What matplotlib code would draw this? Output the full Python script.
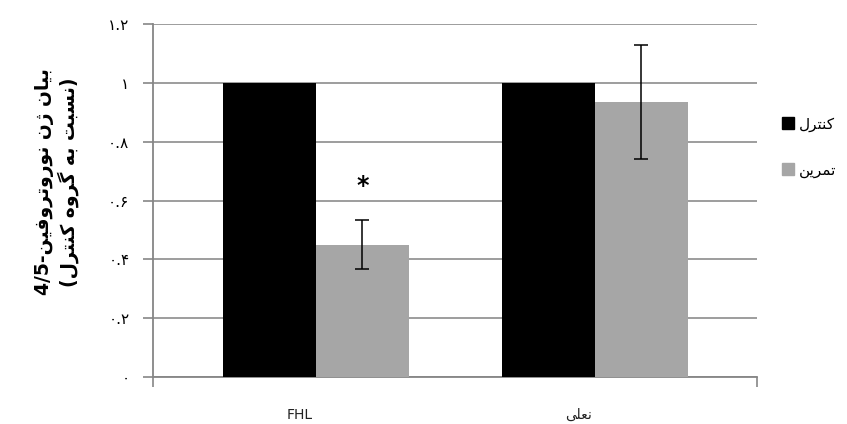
import numpy as np
import matplotlib
matplotlib.use('Agg')
import matplotlib.pyplot as plt
from matplotlib.patches import Patch

# --- data ---
groups = ['FHL', 'نعلی']
control = [1.0, 1.0]
exercise = [0.45, 0.935]
exercise_err = [0.083, 0.195]
series_names = ['کنترل', 'تمرین']
yticks = [0, 0.2, 0.4, 0.6, 0.8, 1.0, 1.2]
ytick_labels = ['۰', '۰.۲', '۰.۴', '۰.۶', '۰.۸', '۱', '۱.۲']

# matplotlib has no Arabic shaping, so pick the presentation forms by hand
forms = {
    'ا': ('\uFE8D', '\uFE8E', None, None),
    'و': ('\uFEED', '\uFEEE', None, None),
    'ر': ('\uFEAD', '\uFEAE', None, None),
    'ژ': ('\uFB8A', '\uFB8B', None, None),
    'ب': ('\uFE8F', '\uFE90', '\uFE91', '\uFE92'),
    'ت': ('\uFE95', '\uFE96', '\uFE97', '\uFE98'),
    'س': ('\uFEB1', '\uFEB2', '\uFEB3', '\uFEB4'),
    'ف': ('\uFED1', '\uFED2', '\uFED3', '\uFED4'),
    'ن': ('\uFEE5', '\uFEE6', '\uFEE7', '\uFEE8'),
    'ه': ('\uFEE9', '\uFEEA', '\uFEEB', '\uFEEC'),
    'ل': ('\uFEDD', '\uFEDE', '\uFEDF', '\uFEE0'),
    'م': ('\uFEE1', '\uFEE2', '\uFEE3', '\uFEE4'),
    'ع': ('\uFEC9', '\uFECA', '\uFECB', '\uFECC'),
    'ی': ('\uFBFC', '\uFBFD', '\uFBFE', '\uFBFF'),
    'ک': ('\uFB8E', '\uFB8F', '\uFB90', '\uFB91'),
    'گ': ('\uFB92', '\uFB93', '\uFB94', '\uFB95'),
}


def shape(s):
    out = []
    for i, ch in enumerate(s):
        if ch not in forms:
            out.append(ch)
            continue
        prev = s[i - 1] if i > 0 else None
        nxt = s[i + 1] if i + 1 < len(s) else None
        join_prev = prev in forms and forms[prev][2] is not None
        join_next = nxt in forms and forms[ch][2] is not None
        iso, fin, ini, med = forms[ch]
        if join_prev and join_next:
            out.append(med)
        elif join_prev:
            out.append(fin)
        elif join_next:
            out.append(ini)
        else:
            out.append(iso)
    return ''.join(out)


def fa(s):
    mirror = {'(': ')', ')': '('}
    return ''.join(mirror.get(c, c) for c in reversed(shape(s)))


plt.rcParams['font.family'] = ['DejaVu Sans']

fig = plt.figure(figsize=(8.47, 4.24), dpi=100)
ax = fig.add_axes([153 / 847, 1 - 377 / 424, 604 / 847, 353 / 424])

x = np.arange(len(groups))
w = 0.333
ax.bar(x - w / 2, control, w, color='black', zorder=3)
ax.bar(x + w / 2, exercise, w, color='#a6a6a6', zorder=3)
ax.errorbar(x + w / 2, exercise, yerr=exercise_err, fmt='none', ecolor='black',
            elinewidth=1.1, capsize=5, capthick=1.1, zorder=4)

# significance mark over the FHL exercise bar
ax.text(x[0] + w / 2, exercise[0] + exercise_err[0] + 0.115, '*', ha='center',
        va='center', fontsize=17, fontweight='bold')

ax.set_xlim(-0.584, 1.581)
ax.set_ylim(0, 1.2)
ax.set_yticks(yticks)
ax.set_yticklabels(ytick_labels, fontsize=11)
ax.yaxis.grid(True, color='#8c8c8c', linewidth=1.2, zorder=0)
ax.set_axisbelow(True)

ax.set_xticks(x - 0.057)
ax.set_xticklabels([groups[0], fa(groups[1])], fontsize=10, color='#222222')
ax.tick_params(axis='x', length=0, pad=22)
ax.set_xticks(ax.get_xlim(), minor=True)
ax.tick_params(axis='x', which='minor', length=7, color='#868686', width=1.2)
ax.tick_params(axis='y', length=7, color='#868686', width=1.2, pad=10)

for side in ['top', 'right']:
    ax.spines[side].set_visible(False)
for side in ['left', 'bottom']:
    ax.spines[side].set_color('#868686')
    ax.spines[side].set_linewidth(1.3)

ylab = '4/5-' + fa('بیان ژن نوروتروفین') + '\n' + fa('(نسبت به گروه کنترل)')
fig.text(57 / 847, 1 - 182 / 424, ylab, rotation=90, ha='center', va='center',
         fontsize=13.5, fontweight='bold', multialignment='center', linespacing=1.15)

handles = [Patch(color='black'), Patch(color='#a6a6a6')]
fig.legend(handles, [fa(n) for n in series_names], loc='center left',
           bbox_to_anchor=(768 / 847, 1 - 147 / 424), frameon=False,
           fontsize=11, handlelength=0.8, handleheight=0.8, handletextpad=0.3,
           labelspacing=2.0)

fig.savefig('out.png', dpi=100)
